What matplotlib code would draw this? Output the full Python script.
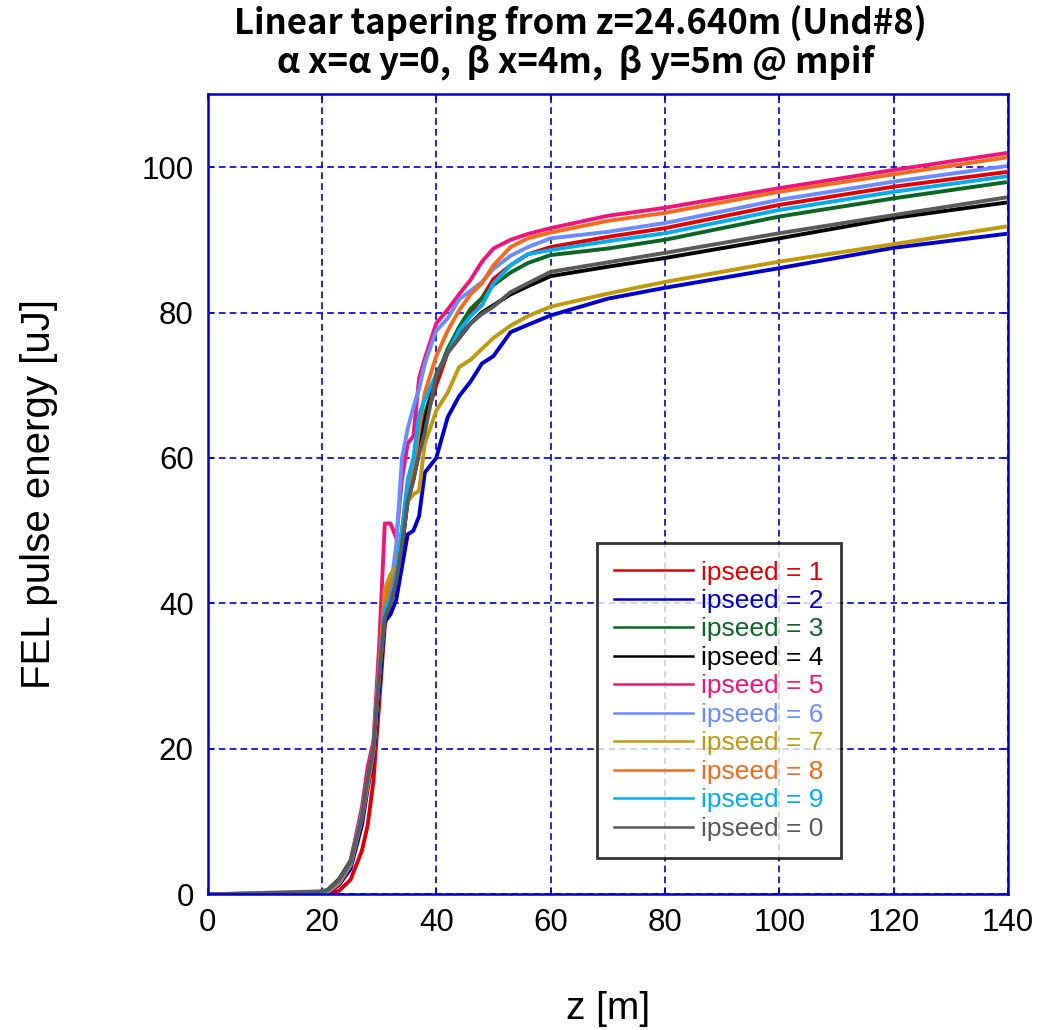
import matplotlib
matplotlib.use("Agg")
import matplotlib.pyplot as plt

# z positions [m] at which the curves were read
z = [0, 19.5, 21, 23, 25, 27, 28, 29, 30, 31, 32, 33, 34, 35, 36, 37, 38, 40,
     42, 44, 46, 48, 50, 53, 56, 60, 70, 80, 100, 120, 139.5]

seed1 = [0, 0, 0.1, 0.5, 2.0, 6.0, 9.5, 15.5, 26, 37, 40, 42.5, 47, 55, 58, 62, 65, 70,
         74.5, 77, 80, 82, 84.6, 86.5, 88, 89.0, 90.4, 91.6, 94.8, 97.3, 99.3]
seed2 = [0, 0, 0.2, 1.3, 3.5, 9.5, 14.5, 19, 28, 37.5, 38.5, 40.5, 45, 49.5, 50, 52, 58, 60,
         65.6, 68.5, 70.5, 73, 74, 77.3, 78.3, 79.6, 81.9, 83.4, 86.1, 88.9, 90.8]
seed3 = [0, 0, 0.4, 1.8, 4.2, 10.5, 15.5, 20, 30, 38.5, 41, 44, 50, 56, 59, 63, 66, 71,
         75, 78, 80.5, 82, 83.8, 85.5, 86.8, 87.9, 88.8, 90.0, 93.2, 95.7, 97.9]
seed4 = [0, 0, 0.6, 2.1, 4.6, 11, 16, 20, 30, 40, 43, 44, 48, 54, 57, 61, 65, 71.5,
         74.5, 76.5, 78.5, 80, 81, 82.5, 83.6, 85.0, 86.3, 87.5, 90.2, 93.0, 95.1]
seed5 = [0, 0, 0.3, 1.6, 4.5, 12, 17.5, 21, 34, 51, 51, 49, 57, 62, 63, 71, 73.7, 78.5,
         80.4, 82.5, 84.5, 87, 88.8, 90.0, 90.8, 91.6, 93.3, 94.4, 97.1, 99.6, 101.9]
seed6 = [0, 0, 0.4, 1.7, 4.2, 11, 15.5, 20, 31, 38.5, 42, 48, 60, 64, 67, 69.5, 73, 77.5,
         79.2, 81.8, 83, 84.2, 86, 87.8, 89, 90.2, 91.1, 92.3, 95.5, 98.0, 100.1]
seed7 = [0, 0, 0.4, 1.7, 4.2, 11, 16, 20, 30, 42, 44, 45, 50, 54, 55, 55.5, 62, 66.5,
         69, 72.5, 73.5, 75, 76.5, 78.2, 79.5, 80.8, 82.6, 84.2, 87.0, 89.4, 91.8]
seed8 = [0, 0, 0.3, 1.5, 4.0, 10.5, 15, 19.5, 31, 40, 43, 44, 50, 55, 58, 64, 69, 74,
         77.5, 80.3, 82.5, 84, 86.5, 89, 90.2, 91.0, 92.6, 93.7, 96.6, 99.0, 101.3]
seed9 = [0, 0.3, 0.5, 1.9, 4.3, 11, 16, 20, 30, 39, 41, 44, 50, 57, 60, 66, 68, 71.5,
         74.5, 77.5, 79.5, 81, 84, 86.5, 88, 88.6, 89.8, 90.9, 94.1, 96.6, 98.7]
seed0 = [0, 0.4, 0.6, 2.0, 4.5, 10.7, 16, 20, 30, 38, 40, 43, 48, 54, 57, 60.6, 63.5, 71.4,
         74.5, 76.5, 78.5, 79.8, 80.8, 82.8, 84, 85.6, 86.9, 88.2, 90.9, 93.4, 95.8]

labels = ["ipseed = 1", "ipseed = 2", "ipseed = 3", "ipseed = 4", "ipseed = 5",
          "ipseed = 6", "ipseed = 7", "ipseed = 8", "ipseed = 9", "ipseed = 0"]
series = [seed1, seed2, seed3, seed4, seed5, seed6, seed7, seed8, seed9, seed0]
colors = ["#E00000", "#0000CC", "#0B6623", "#000000", "#F0147C",
          "#6A8CFF", "#C09A0C", "#F26B1D", "#00AEEF", "#5A5A5A"]

xticks = [0, 20, 40, 60, 80, 100, 120, 140]
yticks = [0, 20, 40, 60, 80, 100]

plt.rcParams['font.family'] = ['Liberation Sans', 'DejaVu Sans']

fig = plt.figure(figsize=(10.38, 10.30), dpi=100)
ax = fig.add_axes([0.2, 0.1317, 0.771, 0.7767])

for s, c, lab in zip(series, colors, labels):
    ax.plot(z, s, color=c, lw=2.8, label=lab)

ax.set_xlim(0, 140)
ax.set_ylim(0, 110)
ax.set_xticks(xticks)
ax.set_yticks(yticks)
ax.tick_params(direction='in', length=4, width=1.2, colors='#0000CC',
               labelcolor='black', labelsize=22.5, top=True, right=True, pad=10)
for sp in ax.spines.values():
    sp.set_color('#0000CC')
    sp.set_linewidth(1.8)
ax.grid(True, color='#0000CC', linestyle=(0, (4, 2.5)), linewidth=1.2)
ax.set_axisbelow(True)

ax.set_xlabel("z [m]", fontsize=28, labelpad=38)
ax.set_ylabel("FEL pulse energy [uJ]", fontsize=29, labelpad=60)

fig.text(0.559, 0.978, "Linear tapering from z=24.640m (Und#8)",
         ha='center', va='center', fontsize=25, fontweight='bold',
         family=['Noto Sans CJK JP', 'DejaVu Sans'])
fig.text(0.555, 0.940, "α x=α y=0,  β x=4m,  β y=5m @ mpif",
         ha='center', va='center', fontsize=25, fontweight='bold',
         family=['Noto Sans CJK JP', 'DejaVu Sans'])

leg = ax.legend(loc='lower left', bbox_to_anchor=(0.4866, 0.0454), fontsize=19,
                frameon=True, fancybox=False, handlelength=3.0, handletextpad=0.3,
                labelspacing=0.17, borderpad=0.65, borderaxespad=0)
leg.get_frame().set_edgecolor('black')
leg.get_frame().set_linewidth(2)
for t, c in zip(leg.get_texts(), colors):
    t.set_color(c)
for h in leg.get_lines():
    h.set_linewidth(1.8)

fig.savefig("out.png", dpi=100)
